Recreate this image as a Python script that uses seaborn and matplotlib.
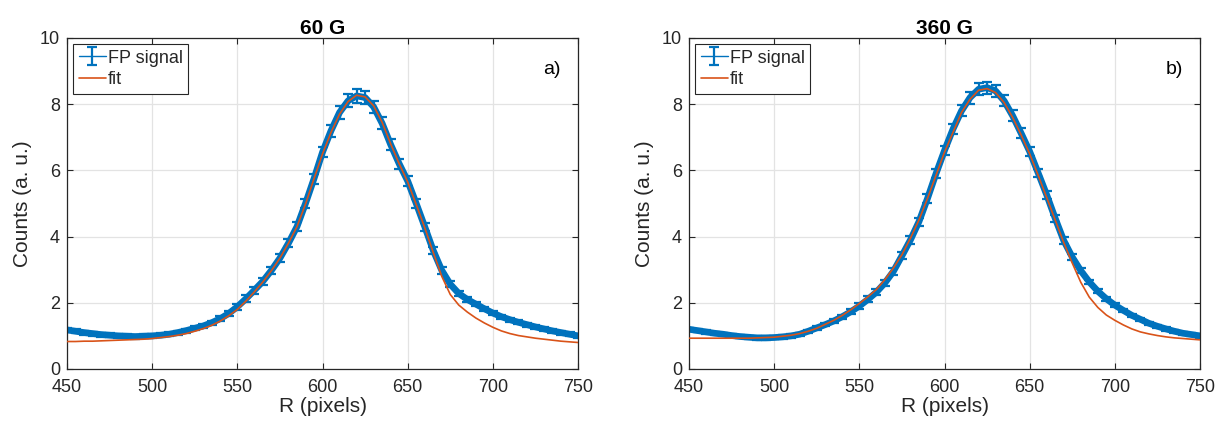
import numpy as np
import matplotlib
matplotlib.use("Agg")
import matplotlib.pyplot as plt
import seaborn as sns

# ------------------------------------------------------------
# sample positions (R, pixels) and values
r = np.arange(450, 755, 5)

signal_60 = [1.18, 1.14, 1.10, 1.07, 1.04, 1.02, 1.00, 0.99, 0.98, 0.99,
             1.00, 1.02, 1.05, 1.10, 1.16, 1.23, 1.30, 1.40, 1.52, 1.68,
             1.88, 2.12, 2.38, 2.65, 2.98, 3.35, 3.80, 4.30, 5.00, 5.75,
             6.55, 7.20, 7.75, 8.10, 8.25, 8.20, 7.92, 7.42, 6.78, 6.20,
             5.68, 5.00, 4.30, 3.58, 2.98, 2.56, 2.28, 2.10, 1.96, 1.82,
             1.69, 1.58, 1.49, 1.41, 1.34, 1.27, 1.21, 1.15, 1.10, 1.05,
             1.00]
err_60 = [0.06, 0.06, 0.06, 0.06, 0.06, 0.06, 0.06, 0.06, 0.06, 0.06,
          0.06, 0.06, 0.06, 0.06, 0.06, 0.06, 0.06, 0.06, 0.07, 0.08,
          0.09, 0.10, 0.10, 0.11, 0.11, 0.12, 0.12, 0.13, 0.14, 0.15,
          0.16, 0.18, 0.19, 0.20, 0.20, 0.20, 0.19, 0.18, 0.17, 0.15,
          0.14, 0.13, 0.12, 0.11, 0.10, 0.09, 0.08, 0.07, 0.07, 0.06,
          0.06, 0.06, 0.06, 0.06, 0.06, 0.06, 0.06, 0.06, 0.06, 0.06,
          0.06]
fit_60 = [0.83, 0.83, 0.84, 0.84, 0.85, 0.86, 0.87, 0.88, 0.89, 0.90,
          0.92, 0.95, 0.98, 1.02, 1.07, 1.14, 1.22, 1.32, 1.45, 1.61,
          1.80, 2.05, 2.33, 2.63, 2.97, 3.35, 3.80, 4.30, 4.98, 5.75,
          6.50, 7.15, 7.70, 8.08, 8.27, 8.22, 7.95, 7.45, 6.80, 6.20,
          5.65, 4.97, 4.27, 3.52, 2.80, 2.25, 1.93, 1.72, 1.54, 1.39,
          1.26, 1.15, 1.07, 1.01, 0.97, 0.93, 0.90, 0.87, 0.84, 0.82,
          0.80]

signal_360 = [1.20, 1.16, 1.12, 1.08, 1.05, 1.01, 0.98, 0.96, 0.94, 0.94,
              0.95, 0.97, 1.00, 1.05, 1.14, 1.24, 1.34, 1.45, 1.58, 1.73,
              1.90, 2.10, 2.32, 2.60, 2.95, 3.42, 3.90, 4.45, 5.15, 5.90,
              6.60, 7.25, 7.80, 8.20, 8.45, 8.50, 8.40, 8.10, 7.65, 7.12,
              6.57, 5.92, 5.26, 4.55, 3.88, 3.38, 2.97, 2.63, 2.35, 2.12,
              1.93, 1.77, 1.62, 1.50, 1.38, 1.29, 1.21, 1.14, 1.08, 1.04,
              1.00]
err_360 = [0.05, 0.05, 0.05, 0.05, 0.05, 0.05, 0.05, 0.05, 0.05, 0.05,
           0.05, 0.05, 0.05, 0.05, 0.05, 0.05, 0.05, 0.05, 0.06, 0.07,
           0.08, 0.09, 0.09, 0.10, 0.10, 0.11, 0.11, 0.12, 0.13, 0.14,
           0.15, 0.16, 0.17, 0.18, 0.18, 0.18, 0.18, 0.17, 0.16, 0.15,
           0.14, 0.13, 0.12, 0.11, 0.10, 0.09, 0.08, 0.07, 0.06, 0.06,
           0.05, 0.05, 0.05, 0.05, 0.05, 0.05, 0.05, 0.05, 0.05, 0.05,
           0.05]
fit_360 = [0.93, 0.93, 0.93, 0.93, 0.93, 0.93, 0.93, 0.93, 0.94, 0.95,
           0.96, 0.99, 1.02, 1.07, 1.14, 1.23, 1.35, 1.47, 1.62, 1.79,
           1.98, 2.18, 2.40, 2.70, 3.05, 3.45, 3.95, 4.50, 5.15, 5.85,
           6.55, 7.15, 7.75, 8.15, 8.42, 8.47, 8.35, 8.05, 7.60, 7.07,
           6.50, 5.85, 5.18, 4.50, 3.82, 3.20, 2.62, 2.17, 1.86, 1.63,
           1.47, 1.33, 1.21, 1.12, 1.06, 1.01, 0.97, 0.94, 0.92, 0.90,
           0.88]

titles = ["60 G", "360 G"]
tags = ["a)", "b)"]
x_ticks = [450, 500, 550, 600, 650, 700, 750]
y_ticks = [0, 2, 4, 6, 8, 10]

# ------------------------------------------------------------
sns.set_theme(style="whitegrid")
plt.rcParams['font.family'] = ['Liberation Sans', 'DejaVu Sans']

blue = '#0072BD'
orange = '#D95319'
dark = '#262626'

fig = plt.figure(figsize=(12.21, 4.29), dpi=100)
ax_a = fig.add_axes([0.0549, 0.1399, 0.4185, 0.7716])
ax_b = fig.add_axes([0.5643, 0.1399, 0.4185, 0.7716])

panels = [(ax_a, signal_60, err_60, fit_60),
          (ax_b, signal_360, err_360, fit_360)]

for i, (ax, sig, err, fit) in enumerate(panels):
    ax.set_facecolor('white')
    # error bars (legend entry) + thick line to mimic the dense band
    ax.errorbar(r, sig, yerr=err, fmt='-', color=blue, lw=1.0,
                elinewidth=1.6, capsize=3.5, capthick=1.6,
                label='FP signal', zorder=2)
    sns.lineplot(x=r, y=sig, color=blue, lw=4.8, ax=ax,
                 legend=False, zorder=2)
    sns.lineplot(x=r, y=fit, color=orange, lw=1.2, ax=ax,
                 label='fit', zorder=3)

    ax.set_xlim(450, 750)
    ax.set_ylim(0, 10)
    ax.set_xticks(x_ticks)
    ax.set_yticks(y_ticks)
    ax.grid(True, color='#E3E3E3', lw=0.9)
    for s in ax.spines.values():
        s.set_color(dark)
        s.set_linewidth(0.9)
        s.set_visible(True)
    ax.tick_params(direction='in', length=4, width=0.8, colors=dark,
                   labelsize=13, top=True, right=True, bottom=True, left=True)
    ax.tick_params(axis='x', pad=7)
    ax.tick_params(axis='y', pad=5)
    ax.set_xlabel('R (pixels)', fontsize=15, color=dark, labelpad=1)
    ax.set_ylabel('Counts (a. u.)', fontsize=15, color=dark, labelpad=6)
    ax.set_title(titles[i], fontsize=15, fontweight='bold', color='black', pad=3)
    ax.text(0.949, 0.905, tags[i], transform=ax.transAxes, fontsize=14,
            ha='center', va='center', color='black')

    handles, labels = ax.get_legend_handles_labels()
    order = [labels.index('FP signal'), labels.index('fit')]
    leg = ax.legend([handles[k] for k in order], [labels[k] for k in order],
                    loc='upper left', fontsize=13, frameon=True,
                    fancybox=False, framealpha=1, edgecolor=dark,
                    borderpad=0.3, labelspacing=0.25, handlelength=1.5,
                    handletextpad=0.1, borderaxespad=0.35)
    leg.get_frame().set_linewidth(0.8)

fig.savefig('out.png', dpi=100)
